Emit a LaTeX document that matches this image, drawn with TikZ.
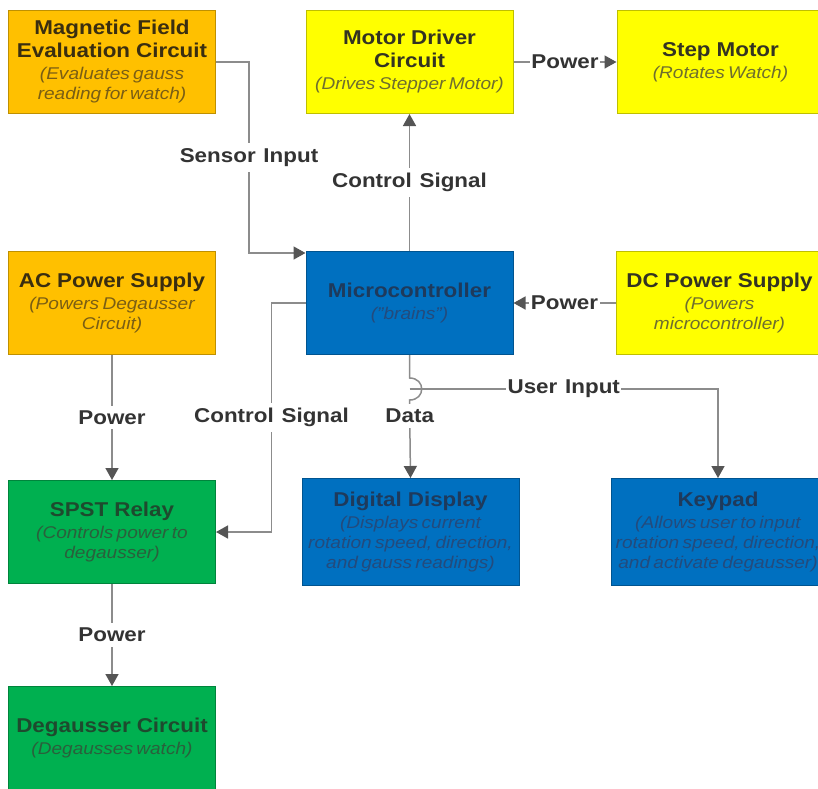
\documentclass[tikz,border=0pt]{standalone}
\usepackage{fontspec}
\setmainfont{Liberation Sans}[FakeStretch=1.12, WordSpace=1.25]
\usetikzlibrary{arrows.meta}

\definecolor{cOr}{HTML}{FFC000}
\definecolor{cOrT}{HTML}{3A2E10}
\definecolor{cOrS}{HTML}{7A5E14}
\definecolor{cYe}{HTML}{FFFF00}
\definecolor{cYeT}{HTML}{333322}
\definecolor{cYeS}{HTML}{6E6E2E}
\definecolor{cBl}{HTML}{0070C0}
\definecolor{cBlT}{HTML}{1E3A5C}
\definecolor{cBlS}{HTML}{234B7D}
\definecolor{cGr}{HTML}{00B050}
\definecolor{cGrT}{HTML}{1E4A2E}
\definecolor{cGrS}{HTML}{2A603C}
\definecolor{lin}{HTML}{8C8C8C}
\definecolor{arw}{HTML}{555555}
\definecolor{lbltxt}{HTML}{333333}

\newcommand{\ttl}[1]{{\fontsize{20}{23}\selectfont\bfseries\spaceskip=.3em\relax #1\par}}
\newcommand{\sbt}[1]{{\vskip2pt\fontsize{17}{20}\selectfont\itshape\color{\subcol}#1\par}}

\begin{document}
\begin{tikzpicture}[x=1pt,y=-1pt]

    \tikzset{blk/.style={draw=#1!75!black, line width=1pt, fill=#1, text=#1T,
        execute at begin node={\def\subcol{#1S}},
        text width=205pt, align=center, inner sep=1pt, minimum height=103pt},
      lbl/.style={fill=white, text=lbltxt, font=\fontsize{20}{23}\selectfont\bfseries,
        inner xsep=1.5pt, inner ysep=5pt}}
    \useasboundingbox (0,0) rectangle (818,788);
    \clip (0,0) rectangle (818,788);

    \node[blk=cOr] (mfe) at (112,62) {\ttl{Magnetic Field\\Evaluation Circuit}\sbt{(Evaluates gauss\\reading for watch)}};
    \node[blk=cYe] (mdc) at (409.5,62) {\ttl{Motor Driver\\Circuit}\sbt{(Drives Stepper Motor)}};
    \node[blk=cYe] (stm) at (720.5,62) {\ttl{Step Motor}\sbt{(Rotates Watch)}};

    \node[blk=cOr] (acp) at (112,303) {\ttl{AC Power Supply}\sbt{(Powers Degausser\\Circuit)}};
    \node[blk=cBl] (mcu) at (409.5,303) {\ttl{Microcontroller}\sbt{("brains")}};
    \node[blk=cYe] (dcp) at (719.5,303) {\ttl{DC Power Supply}\sbt{(Powers\\microcontroller)}};

    \node[blk=cGr] (spst) at (112,532) {\ttl{SPST Relay}\sbt{(Controls power to\\degausser)}};
    \node[blk=cBl, text width=215pt, minimum height=107pt] (disp) at (410.5,532) {\ttl{Digital Display}\sbt{(Displays current\\rotation speed, direction,\\and gauss readings)}};
    \node[blk=cBl, text width=212pt, minimum height=107pt] (kpd) at (718,532) {\ttl{Keypad}\sbt{(Allows user to input\\rotation speed, direction,\\and activate degausser)}};

    \node[blk=cGr] (dgc) at (112,738) {\ttl{Degausser Circuit}\sbt{(Degausses watch)}};

    \coordinate (hopA) at ([yshift=-23pt]mcu.south);
    \coordinate (hopB) at ([yshift=-45pt]mcu.south);
    \coordinate (uij) at ([yshift=-34pt]mcu.south);

    \begin{scope}[every path/.style={draw=lin, line width=1.5pt, -{Triangle[length=12pt,width=13pt,color=arw]}}]
        \draw (mfe.east) -- ++(33,0) |- node[lbl,pos=0.25]{Sensor Input} ([yshift=-2pt]mcu.north west);
        \draw (mcu.north) -- node[lbl]{Control Signal} (mdc.south);
        \draw (mdc.east) -- node[lbl]{Power} (stm.west);
        \draw (dcp.west) -- node[lbl]{Power} (mcu.east);
        \draw (acp.south) -- node[lbl]{Power} (spst.north);
        \draw (mcu.west) -- ++(-34,0) |- node[lbl,pos=0.25]{Control Signal} (spst.east);
        \draw (mcu.south) -- (hopA) to[out=0,in=0,looseness=1.9] (hopB) -- node[lbl,pos=0.2]{Data} (disp.north);
        \draw (uij) -| node[lbl,pos=0.25]{User Input} (kpd.north);
        \draw (spst.south) -- node[lbl]{Power} (dgc.north);
    \end{scope}

\end{tikzpicture}
\end{document}
